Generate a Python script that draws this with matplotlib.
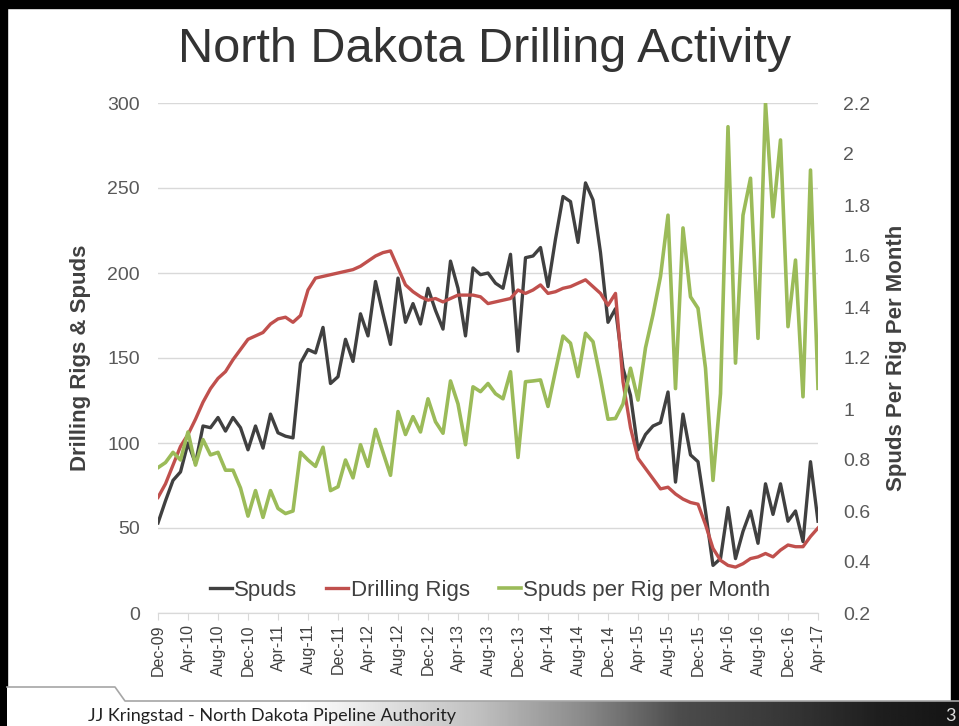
import numpy as np
import matplotlib
matplotlib.use('Agg')
import matplotlib.pyplot as plt
from matplotlib import font_manager
from matplotlib.patches import Rectangle, Polygon

# monthly data Dec-09 .. Apr-17
spuds = [53, 66, 78, 83, 100, 88, 110, 109, 115, 107, 115, 109, 96, 110, 97, 117,
         106, 104, 103, 147, 155, 153, 168, 135, 139, 161, 148, 176, 163, 195, 176,
         158, 197, 171, 182, 170, 191, 178, 167, 207, 191, 163, 203, 199, 200, 194,
         191, 211, 154, 209, 210, 215, 192, 220, 245, 242, 218, 253, 243, 212, 171,
         179, 144, 128, 96, 105, 110, 112, 130, 77, 117, 93, 89, 60, 28, 32, 62, 32,
         48, 60, 41, 76, 58, 76, 54, 60, 42, 89, 54]
rigs = [68, 76, 87, 98, 105, 114, 124, 132, 138, 142, 149, 155, 161, 163, 165, 170,
        173, 174, 171, 175, 190, 197, 198, 199, 200, 201, 202, 204, 207, 210, 212,
        213, 203, 193, 189, 186, 184, 185, 183, 185, 187, 187, 187, 186, 182, 183,
        184, 185, 190, 188, 190, 193, 188, 189, 191, 192, 194, 196, 192, 188, 181,
        188, 136, 109, 91, 85, 79, 73, 74, 70, 67, 65, 64, 52, 38, 31, 28, 27, 29,
        32, 33, 35, 33, 37, 40, 39, 39, 45, 50]
per_rig = [0.77, 0.79, 0.83, 0.80, 0.91, 0.78, 0.88, 0.82, 0.83, 0.76, 0.76, 0.69,
           0.58, 0.68, 0.575, 0.68, 0.61, 0.59, 0.60, 0.83, 0.80, 0.775, 0.85, 0.68,
           0.695, 0.80, 0.73, 0.86, 0.775, 0.92, 0.83, 0.74, 0.99, 0.90, 0.97, 0.91,
           1.04, 0.95, 0.905, 1.11, 1.02, 0.86, 1.087, 1.068, 1.10, 1.06, 1.04, 1.146,
           0.81, 1.107, 1.11, 1.114, 1.01, 1.15, 1.286, 1.258, 1.127, 1.297, 1.264,
           1.12, 0.96, 0.963, 1.02, 1.16, 1.035, 1.24, 1.37, 1.52, 1.76, 1.08, 1.71,
           1.44, 1.395, 1.16, 0.72, 1.06, 2.107, 1.18, 1.76, 1.905, 1.277, 2.2,
           1.754, 2.055, 1.323, 1.584, 1.048, 1.937, 1.081]
tick_labels = ['Dec-09', 'Apr-10', 'Aug-10', 'Dec-10', 'Apr-11', 'Aug-11', 'Dec-11',
               'Apr-12', 'Aug-12', 'Dec-12', 'Apr-13', 'Aug-13', 'Dec-13', 'Apr-14',
               'Aug-14', 'Dec-14', 'Apr-15', 'Aug-15', 'Dec-15', 'Apr-16', 'Aug-16',
               'Dec-16', 'Apr-17']

names = {f.name for f in font_manager.fontManager.ttflist}
has_narrow = 'Liberation Sans Narrow' in names
narrow = 'Liberation Sans Narrow' if has_narrow else 'Liberation Sans'
plain = 'Liberation Sans'

x = np.arange(len(spuds))

fig = plt.figure(figsize=(9.59, 7.26), dpi=100)

# slide background: border and footer
bg = fig.add_axes([0, 0, 1, 1], zorder=-5)
bg.set_xlim(0, 959)
bg.set_ylim(726, 0)
bg.axis('off')
bg.add_patch(Rectangle((0, 0), 959, 8, color='black'))
bg.add_patch(Rectangle((0, 0), 7, 726, color='black'))
bg.add_patch(Rectangle((951, 0), 8, 726, color='black'))
grad = np.interp(np.linspace(0, 959, 400), [0, 300, 480, 580, 680, 780, 880, 959],
                 [1.0, 1.0, 0.75, 0.55, 0.3, 0.22, 0.12, 0.08])
img = bg.imshow(np.tile(grad, (2, 1)), cmap='gray', vmin=0, vmax=1, aspect='auto',
                extent=(0, 959, 726, 687), zorder=1)
clip = Polygon([(7, 687), (115, 687), (125, 701), (959, 701), (959, 726), (7, 726)],
               closed=True, transform=bg.transData)
img.set_clip_path(clip)
bg.plot([7, 115, 125, 959], [687, 687, 701, 701], color='#a6a6a6', lw=1.2, zorder=2)
bg.text(88, 716, 'JJ Kringstad - North Dakota Pipeline Authority', fontsize=13,
        family='Lato', color='#222222', va='center', ha='left', zorder=3)
bg.text(956, 716, '3', fontsize=13, family='Lato', color='#dddddd', va='center',
        ha='right', zorder=3)

fig.text(485 / 959, 1 - 49 / 726, 'North Dakota Drilling Activity',
         fontsize=38 if has_narrow else 35, family=narrow, color='#333333',
         ha='center', va='center')

ax = fig.add_axes([158 / 959, 1 - 613 / 726, 660 / 959, 510 / 726])
ax2 = ax.twinx()

l1, = ax.plot(x, spuds, color='#404040', lw=2.4, label='Spuds')
l2, = ax.plot(x, rigs, color='#c0504d', lw=2.4, label='Drilling Rigs')
l3, = ax2.plot(x, per_rig, color='#9bbb59', lw=2.6, label='Spuds per Rig per Month')

ax.set_xlim(0, 88)
ax.set_ylim(0, 300)
ax.set_yticks(range(0, 301, 50))
ax2.set_ylim(0.2, 2.2)
ax2.set_yticks(np.arange(0.2, 2.21, 0.2))
ax2.set_yticklabels(['%g' % round(v, 1) for v in np.arange(0.2, 2.21, 0.2)])

ax.set_xticks(x[::4])
ax.set_xticklabels(tick_labels, rotation=90, fontsize=11.5, family=plain, color='#404040')
ax.tick_params(axis='x', length=5, color='#d9d9d9', pad=3)
tsize = 15 if has_narrow else 14
ax.tick_params(axis='y', length=0, pad=13, labelsize=tsize, labelcolor='#595959')
ax2.tick_params(axis='y', length=0, pad=18, labelsize=tsize, labelcolor='#595959')
for lab in ax.get_yticklabels() + ax2.get_yticklabels():
    lab.set_family(narrow)

ax.grid(axis='y', color='#d9d9d9', lw=1)
ax.set_axisbelow(True)
for a in (ax, ax2):
    for s in ('top', 'left', 'right'):
        a.spines[s].set_visible(False)
    a.spines['bottom'].set_color('#d9d9d9')

ax.set_ylabel('Drilling Rigs & Spuds', fontsize=16, fontweight='bold', family=plain,
              color='#404040')
ax.yaxis.set_label_coords(-0.101, 0.5)
ax2.set_ylabel('Spuds Per Rig Per Month', fontsize=16, fontweight='bold', family=plain,
               color='#404040')
ax2.yaxis.set_label_coords(1.103, 0.5)

leg = ax2.legend(handles=[l1, l2, l3], loc='center', bbox_to_anchor=(0.503, 0.045),
                 ncol=3, frameon=False, handlelength=1.0, handletextpad=0.1,
                 columnspacing=1.3, prop={'family': plain, 'size': 16})
for t in leg.get_texts():
    t.set_color('#404040')

fig.savefig('out.png', dpi=100)
